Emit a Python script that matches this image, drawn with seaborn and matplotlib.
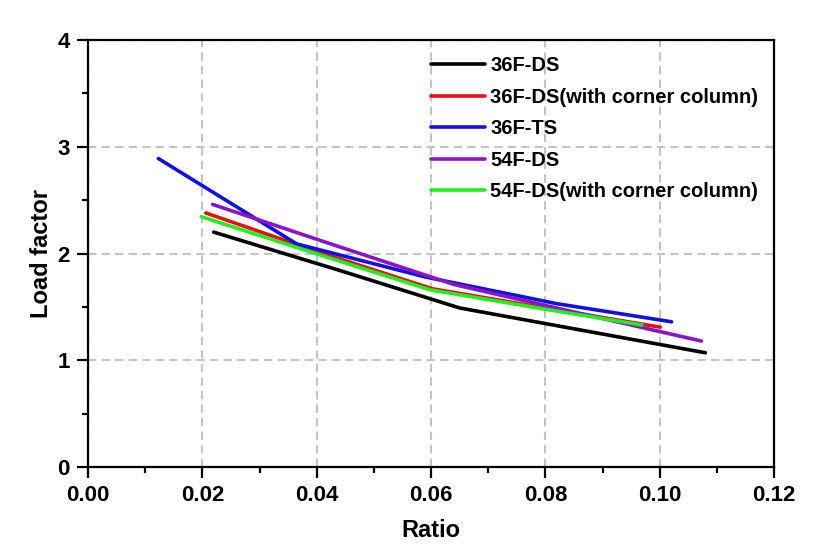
import matplotlib
matplotlib.use("Agg")
import matplotlib.pyplot as plt
from matplotlib.ticker import MultipleLocator, FormatStrFormatter
import seaborn as sns
import pandas as pd

# ---- data ----
series_names = ["36F-DS", "36F-DS(with corner column)", "36F-TS", "54F-DS",
                "54F-DS(with corner column)"]
ds36_x = [0.022, 0.0435, 0.065, 0.0865, 0.108]
ds36_y = [2.20, 1.85, 1.49, 1.28, 1.07]
ds36c_x = [0.0206, 0.040, 0.0602, 0.080, 0.1001]
ds36c_y = [2.38, 2.02, 1.67, 1.49, 1.31]
ts36_x = [0.0123, 0.0365, 0.059, 0.082, 0.1021]
ts36_y = [2.89, 2.09, 1.78, 1.53, 1.36]
ds54_x = [0.0218, 0.043, 0.064, 0.086, 0.1073]
ds54_y = [2.46, 2.08, 1.71, 1.44, 1.18]
ds54c_x = [0.0198, 0.0398, 0.0598, 0.0798, 0.0969]
ds54c_y = [2.345, 2.00, 1.66, 1.48, 1.33]
colors = ["#000000", "#e81010", "#1010e6", "#8c14c8", "#20f020"]
x_ticks = [0.00, 0.02, 0.04, 0.06, 0.08, 0.10, 0.12]
y_ticks = [0, 1, 2, 3, 4]

xs = [ds36_x, ds36c_x, ts36_x, ds54_x, ds54c_x]
ys = [ds36_y, ds36c_y, ts36_y, ds54_y, ds54c_y]
rows = []
for name, sx, sy in zip(series_names, xs, ys):
    for i, (a, b) in enumerate(zip(sx, sy)):
        rows.append({"Series": name, "Ratio": a, "Load factor": b, "order": i})
df = pd.DataFrame(rows)

sns.set_theme(style="white")
plt.rcParams["font.family"] = ["Liberation Sans", "DejaVu Sans"]
plt.rcParams["font.weight"] = "bold"
for k in ["text.color", "axes.labelcolor", "xtick.color", "ytick.color"]:
    plt.rcParams[k] = "black"

fig = plt.figure(figsize=(8.15, 5.59), dpi=100)
ax = fig.add_axes([88 / 815, 1 - 467 / 559, (774 - 88) / 815, (467 - 40) / 559])

sns.lineplot(data=df, x="Ratio", y="Load factor", hue="Series",
             hue_order=series_names, palette=colors, sort=False,
             estimator=None, units="Series", linewidth=2.6, ax=ax)

ax.set_xlim(0, 0.12)
ax.set_ylim(0, 4)
ax.set_xticks(x_ticks)
ax.set_yticks(y_ticks)
ax.xaxis.set_major_formatter(FormatStrFormatter("%.2f"))
ax.xaxis.set_minor_locator(MultipleLocator(0.01))
ax.yaxis.set_minor_locator(MultipleLocator(0.5))

for s in ax.spines.values():
    s.set_visible(True)
    s.set_linewidth(1.6)
    s.set_color("black")

ax.tick_params(axis="both", which="major", direction="out", length=8, width=1.6,
               color="black", bottom=True, left=True, top=False, right=False, pad=5)
ax.tick_params(axis="both", which="minor", direction="out", length=4.5, width=1.6,
               color="black", bottom=True, left=True, top=False, right=False)
for lab in ax.get_xticklabels() + ax.get_yticklabels():
    lab.set_fontsize(16)
    lab.set_fontweight("bold")
    lab.set_color("black")

ax.grid(True, which="major", linestyle=(0, (4, 2.5)), color="#c4c4c4", linewidth=1.5)
ax.set_axisbelow(True)

ax.set_xlabel("Ratio", fontsize=17, fontweight="bold", labelpad=9, color="black")
ax.set_ylabel("Load factor", fontsize=17, fontweight="bold", labelpad=3, color="black")

leg = ax.legend(loc="upper left", bbox_to_anchor=(0.476, 1.0), frameon=False,
                fontsize=14.5, handlelength=2.7, handletextpad=0.25, labelspacing=0.62,
                borderaxespad=0.4)
for t in leg.get_texts():
    t.set_fontweight("bold")
    t.set_color("black")
for h in leg.legend_handles:
    h.set_linewidth(2.6)

fig.savefig("out.png", dpi=100)
